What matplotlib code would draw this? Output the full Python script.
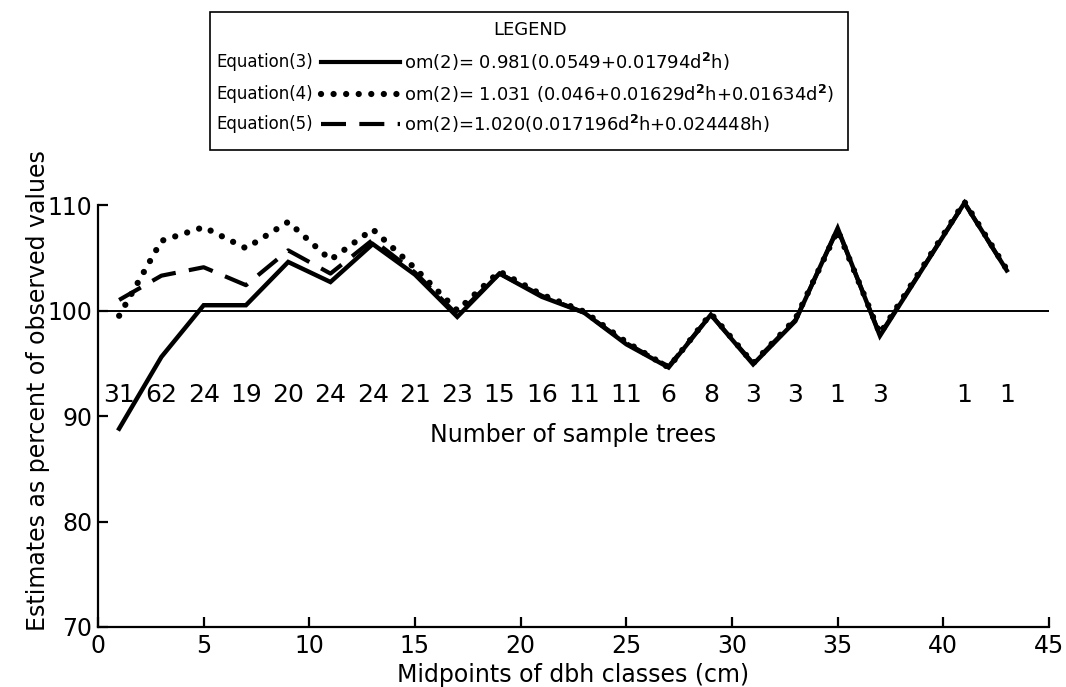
import matplotlib
matplotlib.use('Agg')
import matplotlib.pyplot as plt
from matplotlib.lines import Line2D
from matplotlib.patches import Rectangle

plt.rcParams.update({
    'font.family': 'DejaVu Sans',
    'axes.linewidth': 1.6,
})

# dbh class midpoints (cm)
dbh = [1, 3, 5, 7, 9, 11, 13, 15, 17, 19, 21, 23, 25, 27, 29, 31, 33, 35, 37, 41, 43]
n_trees = [31, 62, 24, 19, 20, 24, 24, 21, 23, 15, 16, 11, 11, 6, 8, 3, 3, 1, 3, 1, 1]

# estimates as percent of observed values
eq3 = [88.8, 95.6, 100.5, 100.5, 104.6, 102.7, 106.3, 103.4, 99.4, 103.5, 101.3,
       99.8, 96.8, 94.6, 99.6, 94.9, 99.0, 107.8, 97.6, 110.2, 103.8]
eq4 = [99.5, 106.6, 107.9, 105.9, 108.4, 104.8, 107.7, 104.0, 100.0, 103.7, 101.5,
       99.9, 97.0, 94.6, 99.7, 95.0, 99.2, 107.6, 97.8, 110.3, 103.9]
eq5 = [101.0, 103.3, 104.1, 102.4, 105.7, 103.5, 106.7, 103.6, 99.6, 103.5, 101.4,
       99.8, 96.9, 94.7, 99.6, 95.0, 99.1, 107.7, 97.7, 110.2, 103.8]

legend_rows = [
    ('Equation(3)', r'om(2)= 0.981(0.0549+0.01794d$^{\mathbf{2}}$h)', 'solid'),
    ('Equation(4)', r'om(2)= 1.031 (0.046+0.01629d$^{\mathbf{2}}$h+0.01634d$^{\mathbf{2}}$)', 'dotted'),
    ('Equation(5)', r'om(2)=1.020(0.017196d$^{\mathbf{2}}$h+0.024448h)', 'dashed'),
]

W, H = 1066, 687
fig = plt.figure(figsize=(W / 100, H / 100), dpi=100)
ax = fig.add_axes([98 / W, 1 - 627 / H, (1049 - 98) / W, (627 - 205) / H])

dot_style = dict(linestyle=(0, (0.01, 2.0)), dash_capstyle='round', lw=4.5)
dash_style = dict(linestyle=(0, (6, 3.2)), lw=3.0)

ax.axhline(100, xmin=0, xmax=1.0, color='black', lw=1.4)
ax.plot(dbh, eq5, color='black', clip_on=False, **dash_style)
ax.plot(dbh, eq4, color='black', clip_on=False, **dot_style)
ax.plot(dbh, eq3, color='black', lw=3.2, solid_joinstyle='miter', clip_on=False)

for x, n in zip(dbh, n_trees):
    ax.text(x, 92, str(n), ha='center', va='center', fontsize=18)
ax.text(22.5, 88.2, 'Number of sample trees', ha='center', va='center', fontsize=17)

ax.set_xlim(0, 45)
ax.set_ylim(70, 110)
ax.set_xticks(range(0, 46, 5))
ax.set_yticks([70, 80, 90, 100, 110])
ax.tick_params(direction='in', length=7, width=1.6, labelsize=17, pad=4)
ax.tick_params(axis='x', pad=5)
ax.spines['top'].set_visible(False)
ax.spines['right'].set_visible(False)
ax.set_xlabel('Midpoints of dbh classes (cm)', fontsize=17)
ax.set_ylabel('Estimates as percent of observed values', fontsize=17)
ax.xaxis.set_label_coords(0.5, -0.085)
ax.yaxis.set_label_coords(-0.05, 0.56)

# legend box
fig.add_artist(Rectangle((210 / W, 1 - 150 / H), (848 - 210) / W, (150 - 12) / H,
                         transform=fig.transFigure, fill=False, lw=1.2, color='black'))
fig.text(530 / W, 1 - 30 / H, 'LEGEND', ha='center', va='center', fontsize=13)
row_y = [62, 94, 124]
styles = {'solid': dict(linestyle='-', lw=3.0), 'dotted': dot_style, 'dashed': dash_style}
for (name, formula, st), yy in zip(legend_rows, row_y):
    y = 1 - yy / H
    fig.text(216 / W, y, name, ha='left', va='center', fontsize=12)
    fig.add_artist(Line2D([321 / W, 400 / W], [y, y], transform=fig.transFigure,
                          color='black', **styles[st]))
    fig.text(404 / W, y, formula, ha='left', va='center', fontsize=13)

fig.savefig('out.png', dpi=100)
